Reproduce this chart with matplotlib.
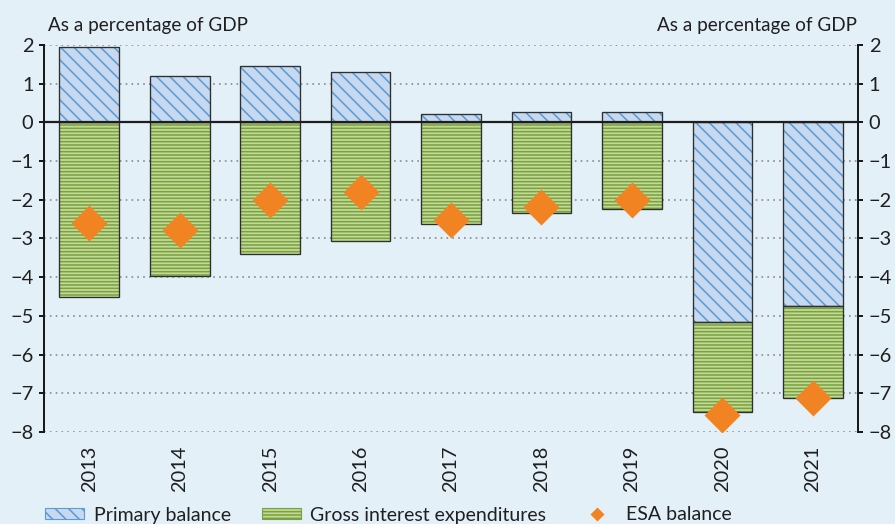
import numpy as np
import matplotlib
matplotlib.use("Agg")
import matplotlib.pyplot as plt
import matplotlib.patches as mpatches
from matplotlib.lines import Line2D

years = ["2013", "2014", "2015", "2016", "2017", "2018", "2019", "2020", "2021"]
primary = [1.95, 1.20, 1.45, 1.29, 0.21, 0.26, 0.26, -5.17, -4.75]
interest = [-4.51, -3.96, -3.41, -3.06, -2.62, -2.33, -2.23, -2.32, -2.36]
esa = [-2.61, -2.78, -2.01, -1.81, -2.52, -2.18, -2.01, -7.56, -7.13]
yticks = list(range(-8, 3))
labels = ["Primary balance", "Gross interest expenditures", "ESA balance"]
unit = "As a percentage of GDP"

bg = "#e3f0f8"
blue_face = "#c6d9f0"
blue_hatch = "#5b9bd3"
green_face = "#c4d89c"
green_hatch = "#78a33a"
orange = "#f28322"
outline = "#2f2f2f"
txt = "#1f1f1f"
fs_tick = 18
fs_title = 17
fs_leg = 17.5

plt.rcParams["font.family"] = ["Lato", "DejaVu Sans"]
plt.rcParams["hatch.linewidth"] = 1.4

dpi = 80
fig = plt.figure(figsize=(895 / dpi, 524 / dpi), dpi=dpi, facecolor=bg)
ax = fig.add_axes([0.0492, 0.1756, 0.9095, 0.7385], facecolor=bg)

x = np.arange(len(years))
w = 0.66
bottom_int = np.minimum(primary, 0)

# hatched fills
ax.bar(x, primary, width=w, color=blue_face, edgecolor=blue_hatch,
       hatch="\\\\", linewidth=0, zorder=2)
ax.bar(x, interest, width=w, bottom=bottom_int, color=green_face,
       edgecolor=green_hatch, hatch="----", linewidth=0, zorder=2)
# outlines
ax.bar(x, primary, width=w, fill=False, edgecolor=outline, linewidth=1.2, zorder=3)
ax.bar(x, interest, width=w, bottom=bottom_int, fill=False,
       edgecolor=outline, linewidth=1.2, zorder=3)

ax.axhline(0, color="#1e1e1e", lw=2, zorder=4)

ax.plot(x, esa, "D", ms=23.5, color=orange, mec="none", zorder=5)

ax.set_xlim(-0.5, len(years) - 0.5)
ax.set_ylim(-8, 2)
ax.set_yticks(yticks)
ax.yaxis.grid(True, color="#8a8a8a", linestyle=(0, (1, 2.5)), linewidth=1.5)
ax.set_axisbelow(True)

ax.set_xticks(x, years, rotation=90)
ax.tick_params(axis="x", length=0, pad=12, labelsize=fs_tick, labelcolor=txt)
ax.tick_params(axis="y", direction="out", length=4.5, width=1.8, color="#1a1a1a",
               left=True, right=True, labelleft=True, labelright=True,
               pad=5, labelsize=fs_tick, labelcolor=txt)

for s in ["top", "bottom"]:
    ax.spines[s].set_visible(False)
for s in ["left", "right"]:
    ax.spines[s].set_linewidth(1.8)
    ax.spines[s].set_color("#1a1a1a")

fig.text(48 / 895, 1 - 31 / 524, unit, fontsize=fs_title, color=txt, ha="left", va="baseline")
fig.text(857 / 895, 1 - 31 / 524, unit, fontsize=fs_title, color=txt, ha="right", va="baseline")

h1 = mpatches.Patch(facecolor=blue_face, edgecolor=blue_hatch, hatch="\\\\", lw=1)
h2 = mpatches.Patch(facecolor=green_face, edgecolor=green_hatch, hatch="----", lw=1)
h3 = Line2D([], [], marker="D", ls="none", color=orange, ms=9, mec="none")
leg = fig.legend([h1, h2, h3], labels, loc="center left",
                 bbox_to_anchor=(45 / 895, 1 - 515 / 524), ncol=3, frameon=False,
                 fontsize=fs_leg, handlelength=2.0, handleheight=0.5, handletextpad=0.5,
                 columnspacing=1.6, borderpad=0, borderaxespad=0)
for t in leg.get_texts():
    t.set_color(txt)

fig.savefig("out.png", dpi=dpi, facecolor=bg)
